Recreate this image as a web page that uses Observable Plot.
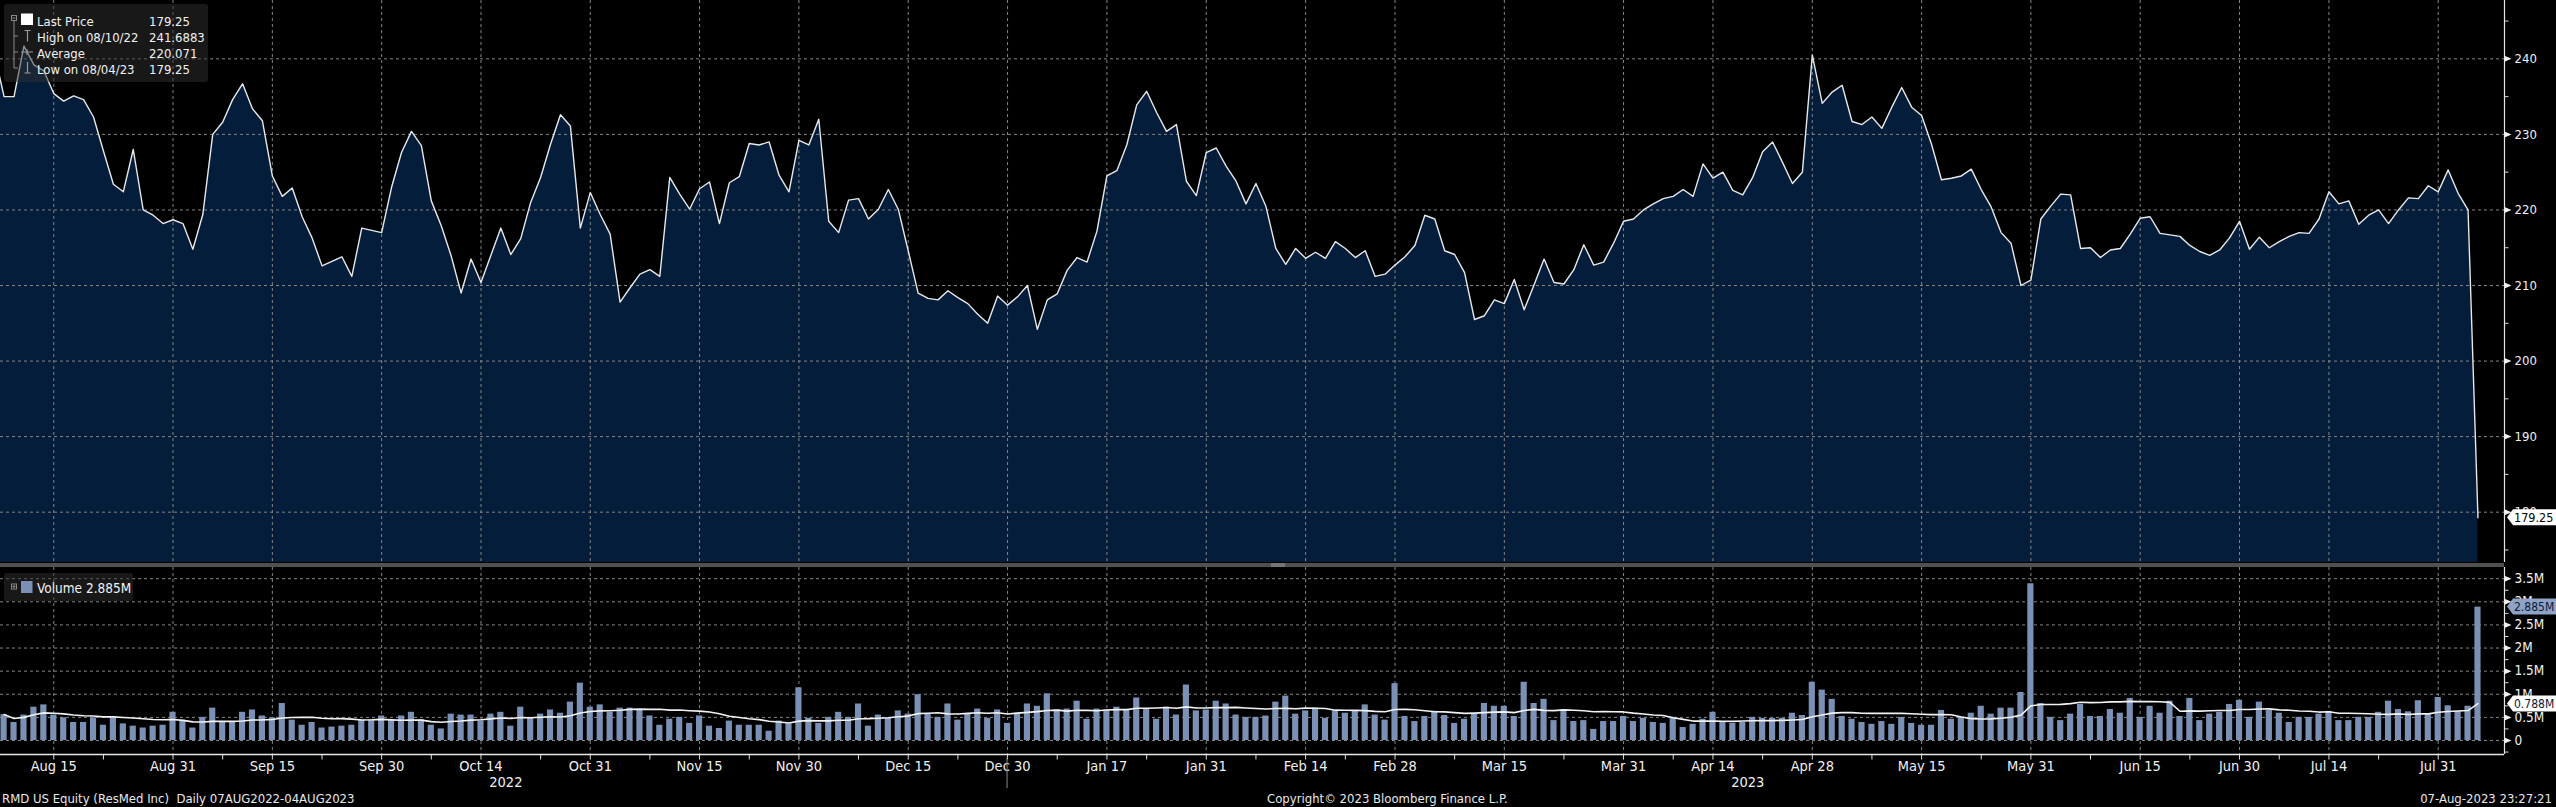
<!DOCTYPE html>
<html>
<head>
<meta charset="utf-8">
<script src="https://cdn.jsdelivr.net/npm/d3@7"></script>
<script src="https://cdn.jsdelivr.net/npm/@observablehq/plot@0.6"></script>
<style>
html, body { margin: 0; padding: 0; background: #000; }
#root { position: relative; width: 2556px; height: 807px; background: #000; overflow: hidden; }
#root > .panel { position: absolute; left: 0; }
#root svg { display: block; }
#overlay { position: absolute; left: 0; top: 0; pointer-events: none; }
</style>
</head>
<body>
<div id="root"></div>
<script>
// ---------------- DATA ----------------
const startDate = "2022-08-08";
const endDate = "2023-08-04";
const holidays = ["2022-09-05","2022-11-24","2022-12-26","2023-01-02","2023-01-16",
  "2023-02-20","2023-04-07","2023-05-29","2023-06-19","2023-07-04"];

// close price of the day before the window (line enters from the left edge)
const priorClose = 240.8;

const prices = [
  235.0,235.0,241.7,239.2,238.4,235.4,234.4,235.1,234.6,232.3,
  227.8,223.4,222.4,228.0,220.0,219.3,218.2,218.7,218.2,214.8,
  219.4,230.0,231.6,234.6,236.7,233.4,231.8,224.5,221.8,222.9,
  219.1,216.3,212.6,213.2,213.8,211.2,217.6,217.3,217.0,223.0,
  227.6,230.4,228.5,221.2,217.9,213.9,209.0,213.5,210.4,214.0,
  217.6,214.1,216.2,221.0,224.3,228.7,232.6,231.1,217.6,222.3,
  219.4,216.8,207.8,209.7,211.5,212.1,211.2,224.3,222.1,220.1,
  222.8,223.7,218.2,223.6,224.4,228.8,228.6,229.0,224.6,222.4,
  229.2,228.6,232.0,218.5,217.0,221.3,221.5,218.8,220.1,222.7,
  220.1,214.6,209.0,208.3,208.1,209.3,208.4,207.6,206.2,205.0,
  208.6,207.4,208.5,210.0,204.2,208.1,208.9,212.0,213.7,213.1,
  217.2,224.5,225.2,228.6,233.9,235.7,232.9,230.4,231.3,223.8,
  221.9,227.6,228.2,225.8,223.8,220.8,223.5,220.5,214.9,212.8,
  214.9,213.6,214.4,213.6,215.8,214.9,213.7,214.6,211.2,211.5,
  212.7,213.8,215.3,219.3,218.8,214.6,214.1,211.7,205.5,206.0,
  208.1,207.6,210.8,206.8,210.1,213.5,210.4,210.2,212.1,215.4,
  212.7,213.1,215.6,218.5,218.8,220.0,220.8,221.5,221.8,222.7,
  221.8,226.1,224.2,225.0,222.6,222.0,224.3,227.7,229.0,226.3,
  223.5,225.0,240.5,234.1,235.6,236.5,231.7,231.3,232.3,230.8,
  233.6,236.2,233.6,232.5,228.7,224.0,224.2,224.5,225.4,222.7,
  220.4,217.0,215.6,210.0,210.7,218.8,220.5,222.1,222.0,214.9,
  215.0,213.7,214.7,214.9,216.8,218.9,219.1,216.9,216.7,216.5,
  215.3,214.5,214.0,214.7,216.3,218.5,214.8,216.4,215.0,215.8,
  216.5,217.0,216.9,218.8,222.4,220.8,221.2,218.1,219.3,220.0,
  218.2,220.0,221.6,221.5,223.2,222.4,225.3,222.2,220.0,179.25
];

// daily volume, millions of shares
const volumes = [
  0.56,0.39,0.55,0.72,0.77,0.55,0.49,0.39,0.39,0.49,
  0.33,0.49,0.36,0.31,0.27,0.31,0.33,0.61,0.44,0.27,
  0.50,0.70,0.39,0.39,0.61,0.66,0.53,0.49,0.80,0.44,
  0.33,0.39,0.27,0.29,0.31,0.33,0.44,0.44,0.53,0.44,
  0.53,0.61,0.45,0.33,0.25,0.57,0.55,0.55,0.42,0.57,
  0.61,0.31,0.72,0.49,0.57,0.66,0.59,0.83,1.24,0.72,
  0.77,0.61,0.70,0.70,0.66,0.53,0.33,0.46,0.50,0.37,
  0.53,0.31,0.26,0.42,0.33,0.33,0.33,0.20,0.42,0.36,
  1.14,0.48,0.37,0.50,0.61,0.50,0.79,0.31,0.55,0.48,
  0.64,0.57,0.99,0.57,0.50,0.79,0.44,0.57,0.68,0.48,
  0.66,0.37,0.59,0.79,0.74,1.01,0.66,0.68,0.85,0.46,
  0.68,0.66,0.72,0.66,0.92,0.68,0.46,0.72,0.55,1.20,
  0.64,0.66,0.85,0.79,0.55,0.50,0.50,0.53,0.83,0.96,
  0.57,0.64,0.70,0.48,0.64,0.59,0.64,0.77,0.55,0.44,
  1.23,0.52,0.41,0.52,0.63,0.54,0.37,0.46,0.57,0.80,
  0.74,0.74,0.52,1.26,0.80,0.89,0.43,0.67,0.41,0.43,
  0.24,0.41,0.41,0.52,0.41,0.48,0.39,0.37,0.50,0.28,
  0.35,0.46,0.61,0.39,0.37,0.39,0.50,0.48,0.48,0.48,
  0.59,0.54,1.26,1.09,0.89,0.52,0.46,0.39,0.35,0.41,
  0.35,0.50,0.37,0.33,0.33,0.65,0.46,0.50,0.59,0.74,
  0.57,0.70,0.70,1.04,3.39,0.80,0.50,0.43,0.57,0.78,
  0.52,0.52,0.67,0.59,0.91,0.50,0.74,0.59,0.85,0.52,
  0.91,0.43,0.57,0.61,0.78,0.87,0.50,0.83,0.65,0.59,
  0.39,0.50,0.50,0.57,0.63,0.43,0.43,0.50,0.50,0.61,
  0.85,0.67,0.62,0.86,0.57,0.93,0.75,0.63,0.74,2.885
];

const majorTickDates = ["2022-08-15","2022-08-31","2022-09-15","2022-09-30","2022-10-14","2022-10-31",
  "2022-11-15","2022-11-30","2022-12-15","2022-12-30","2023-01-17","2023-01-31","2023-02-14","2023-02-28",
  "2023-03-15","2023-03-31","2023-04-14","2023-04-28","2023-05-15","2023-05-31","2023-06-15","2023-06-30",
  "2023-07-14","2023-07-31"];
const majorTickLabels = ["Aug 15","Aug 31","Sep 15","Sep 30","Oct 14","Oct 31","Nov 15","Nov 30","Dec 15",
  "Dec 30","Jan 17","Jan 31","Feb 14","Feb 28","Mar 15","Mar 31","Apr 14","Apr 28","May 15","May 31",
  "Jun 15","Jun 30","Jul 14","Jul 31"];
const minorTickDates = ["2022-08-22","2022-09-08","2022-09-22","2022-10-07","2022-10-24","2022-11-08",
  "2022-11-22","2022-12-08","2022-12-22","2023-01-09","2023-01-23","2023-02-07","2023-02-21","2023-03-08",
  "2023-03-23","2023-04-10","2023-04-21","2023-05-08","2023-05-23","2023-06-08","2023-06-23","2023-07-07",
  "2023-07-21"];
const yearLabels = ["2022","2023"];
const yearBoundaryDate = "2022-12-30";

const priceTicks = [180,190,200,210,220,230,240];
const priceMinorTicks = [175,185,195,205,215,225,235,245];
const volumeTicks = [0,0.5,1,1.5,2,2.5,3,3.5];
const volumeTickLabels = ["0","0.5M","1M","1.5M","2M","2.5M","3M","3.5M"];
const volumeMinorTicks = [-0.25,0.25,0.75,1.25,1.75,2.25,2.75,3.25];

const legendRows = [
  ["Last Price","179.25"],
  ["High on 08/10/22","241.6883"],
  ["Average","220.071"],
  ["Low on 08/04/23","179.25"]
];
const lastPrice = 179.25;
const lastVolume = 2.885;
const lastVolumeAvg = 0.788;
const volumeLegend = "Volume 2.885M";
const footerLeft = "RMD US Equity (ResMed Inc)  Daily 07AUG2022-04AUG2023";
const footerCenter = "Copyright\u00A9 2023 Bloomberg Finance L.P.";
const footerRight = "07-Aug-2023 23:27:21";

// ---------------- BUILD ----------------
const days = [];
{
  let d = new Date(startDate + "T00:00:00Z");
  const end = new Date(endDate + "T00:00:00Z");
  while (d <= end) {
    const wd = d.getUTCDay();
    const s = d.toISOString().slice(0, 10);
    if (wd !== 0 && wd !== 6 && !holidays.includes(s)) days.push(s);
    d = new Date(d.getTime() + 864e5);
  }
}
const idx = s => days.indexOf(s);
const rows = days.map((date, i) => ({i, date, price: prices[i], vol: volumes[i]}));
const lineRows = [{i: -1, price: priorClose}, ...rows];
const majorIdx = majorTickDates.map(idx);
const minorIdx = minorTickDates.map(idx);
const yearRows = yearLabels.map(y => {
  const ii = days.map((d, i) => d.startsWith(y) ? i : null).filter(v => v !== null);
  return {label: y, i: (ii[0] + ii[ii.length - 1]) / 2};
});

const X_DOMAIN = [-0.362, 251.67];
const PRICE_Y = [173.34, 247.72];
const VOL_Y = [-0.303, 3.742];

const AREA = "#031d3b";
const GRID = "#858585";
const BAR = "#7a90b4";
const WHITE = "#f0f0f0";
const NARROW = "'Liberation Sans Narrow','DejaVu Sans Condensed',sans-serif";
const COND = "'DejaVu Sans Condensed','DejaVu Sans',sans-serif";

const tri = {draw(ctx) { ctx.moveTo(0, -3); ctx.lineTo(7, 0); ctx.lineTo(0, 3); ctx.closePath(); }};
const hTick = {draw(ctx) { ctx.moveTo(0, 0); ctx.lineTo(4, 0); }};
const vTick = {draw(ctx) { ctx.moveTo(0, 0); ctx.lineTo(0, 5); }};

const pricePlot = Plot.plot({
  width: 2556, height: 562,
  marginLeft: 0, marginRight: 52, marginTop: 0, marginBottom: 0,
  style: {background: "transparent", color: WHITE, overflow: "visible"},
  x: {domain: X_DOMAIN, axis: null},
  y: {domain: PRICE_Y, axis: null},
  marks: [
    Plot.areaY(lineRows, {x: "i", y1: PRICE_Y[0], y2: "price", fill: AREA, clip: true}),
    Plot.ruleY(priceTicks, {stroke: GRID, strokeDasharray: "3,3"}),
    Plot.ruleX(majorIdx, {stroke: GRID, strokeDasharray: "3,3"}),
    Plot.lineY(lineRows, {x: "i", y: "price", stroke: "#e8e8e8", strokeWidth: 1.4, clip: true}),
    Plot.ruleX([X_DOMAIN[1]], {stroke: "#e6e6e6", strokeWidth: 1.2}),
    Plot.dot(priceMinorTicks, {x: X_DOMAIN[1], y: d => d, symbol: hTick, fill: "none", stroke: "#d8d8d8", strokeWidth: 1}),
    Plot.dot(priceTicks, {x: X_DOMAIN[1], y: d => d, symbol: tri, fill: WHITE, stroke: "none"}),
    Plot.text(priceTicks, {x: X_DOMAIN[1], y: d => d, text: d => String(d), textAnchor: "start", dx: 10,
      fill: WHITE, fontSize: 13, fontFamily: COND})
  ]
});

const volPlot = Plot.plot({
  width: 2556, height: 245,
  marginLeft: 0, marginRight: 52, marginTop: 5, marginBottom: 53,
  style: {background: "transparent", color: WHITE, overflow: "visible"},
  x: {domain: X_DOMAIN, axis: null},
  y: {domain: VOL_Y, axis: null},
  marks: [
    Plot.ruleY(volumeTicks, {stroke: GRID, strokeDasharray: "3,3"}),
    Plot.ruleX(majorIdx, {stroke: GRID, strokeDasharray: "3,3"}),
    Plot.rect(rows, {x1: d => d.i - 0.31, x2: d => d.i + 0.31, y1: 0, y2: "vol", fill: BAR}),
    Plot.lineY(rows, Plot.windowY({k: 15, anchor: "end", strict: false},
      {x: "i", y: "vol", stroke: "#f2f2f2", strokeWidth: 1.6})),
    Plot.ruleY([VOL_Y[0]], {stroke: "#e8e8e8", strokeWidth: 1.6}),
    Plot.ruleX([X_DOMAIN[1]], {stroke: "#e6e6e6", strokeWidth: 1.2}),
    Plot.dot(volumeMinorTicks, {x: X_DOMAIN[1], y: d => d, symbol: hTick, fill: "none", stroke: "#d8d8d8", strokeWidth: 1}),
    Plot.dot(volumeTicks, {x: X_DOMAIN[1], y: d => d, symbol: tri, fill: WHITE, stroke: "none"}),
    Plot.text(volumeTicks, {x: X_DOMAIN[1], y: d => d, text: (d, k) => volumeTickLabels[k], textAnchor: "start",
      dx: 10, fill: WHITE, fontSize: 13.5, fontFamily: NARROW}),
    Plot.dot(majorIdx, {x: d => d, y: VOL_Y[0], symbol: vTick, fill: "none", stroke: "#e0e0e0", strokeWidth: 1}),
    Plot.dot(minorIdx, {x: d => d, y: VOL_Y[0], symbol: vTick, fill: "none", stroke: "#e0e0e0", strokeWidth: 1}),
    Plot.text(majorIdx, {x: d => d, y: VOL_Y[0], text: (d, k) => majorTickLabels[k], dy: 12,
      fill: WHITE, fontSize: 14.5, fontFamily: NARROW}),
    Plot.text(yearRows, {x: "i", y: VOL_Y[0], text: "label", dy: 28,
      fill: WHITE, fontSize: 14.5, fontFamily: NARROW})
  ]
});

const root = document.getElementById("root");
const p1 = document.createElement("div"); p1.className = "panel"; p1.style.top = "0px"; p1.appendChild(pricePlot);
const p2 = document.createElement("div"); p2.className = "panel"; p2.style.top = "562px"; p2.appendChild(volPlot);
root.appendChild(p1); root.appendChild(p2);

// ---------------- OVERLAY (legends, value tags, footer) ----------------
const py = pricePlot.scale("y").apply(lastPrice);
const vy1 = 562 + volPlot.scale("y").apply(lastVolume);
const vy2 = 562 + volPlot.scale("y").apply(lastVolumeAvg);
const yearX = volPlot.scale("x").apply(idx(yearBoundaryDate));

function tag(cy, fill, textFill, label, font, size) {
  const h = 16;
  return `<polygon points="2507,${cy} 2513,${cy - h/2} 2556,${cy - h/2} 2556,${cy + h/2} 2513,${cy + h/2}" fill="${fill}"/>
  <text x="2514" y="${cy + 4.4}" fill="${textFill}" font-family="${font}" font-size="${size}">${label}</text>`;
}

const rowBase = [25.5, 41.5, 57.5, 73.5];
const legendText = legendRows.map((r, k) =>
  `<text x="37" y="${rowBase[k]}" fill="#f2f2f2" font-family="${COND}" font-size="13">${r[0]}</text>
   <text x="149" y="${rowBase[k]}" fill="#f2f2f2" font-family="${COND}" font-size="13">${r[1]}</text>`).join("");

const svgNS = `<svg id="overlay" width="2556" height="807" xmlns="http://www.w3.org/2000/svg">
  <rect x="0" y="563" width="2504" height="4" fill="#505050"/>
  <rect x="1271" y="563.5" width="14" height="1" fill="#9a9a9a"/>
  <rect x="1271" y="565.5" width="14" height="1" fill="#9a9a9a"/>

  <rect x="4" y="4" width="204" height="78" rx="3" fill="rgba(48,48,48,0.5)"/>
  <rect x="11.5" y="15.5" width="5" height="5" fill="none" stroke="#8a8a8a" stroke-width="1"/>
  <line x1="12.5" y1="18" x2="15.5" y2="18" stroke="#8a8a8a"/>
  <line x1="14" y1="21" x2="14" y2="68" stroke="#8a8a8a"/>
  <line x1="14" y1="36" x2="18" y2="36" stroke="#8a8a8a"/>
  <line x1="14" y1="52" x2="18" y2="52" stroke="#8a8a8a"/>
  <line x1="14" y1="68" x2="18" y2="68" stroke="#8a8a8a"/>
  <rect x="21" y="13.5" width="12" height="11.5" fill="#ffffff"/>
  <path d="M24.5,30.5 H30.5 M27.5,30.5 V41.5" stroke="#9a9a9a" stroke-width="1.2" fill="none"/>
  <path d="M21,52 H33 M27,49 V55" stroke="#9a9a9a" stroke-width="1.2" fill="none"/>
  <path d="M27.5,62 V73 M24.5,73 H30.5" stroke="#9a9a9a" stroke-width="1.2" fill="none"/>
  ${legendText}

  <rect x="4" y="573" width="129" height="28" rx="3" fill="rgba(48,48,48,0.5)"/>
  <rect x="11.5" y="584" width="5" height="5" fill="none" stroke="#8a8a8a"/>
  <line x1="12.5" y1="586.5" x2="15.5" y2="586.5" stroke="#8a8a8a"/>
  <line x1="14" y1="585" x2="14" y2="588" stroke="#8a8a8a"/>
  <rect x="21" y="581" width="11.5" height="12" fill="${BAR}"/>
  <text x="37" y="593" fill="#f2f2f2" font-family="${NARROW}" font-size="13.5">${volumeLegend}</text>

  ${tag(py, "#ffffff", "#000000", lastPrice.toFixed(2), COND, 12.5)}
  ${tag(vy1, "#8ea3c6", "#0b1a36", lastVolume.toFixed(3) + "M", NARROW, 12)}
  ${tag(vy2, "#ffffff", "#0b1a36", lastVolumeAvg.toFixed(3) + "M", NARROW, 12)}

  <line x1="${yearX}" y1="757" x2="${yearX}" y2="788" stroke="#8a8a8a" stroke-width="1"/>

  <text x="2" y="802.5" fill="#e8e8e8" font-family="${NARROW}" font-size="13" xml:space="preserve">${footerLeft}</text>
  <text x="1267" y="802.5" fill="#e8e8e8" font-family="${NARROW}" font-size="13">${footerCenter}</text>
  <text x="2552" y="802.5" text-anchor="end" fill="#e8e8e8" font-family="${NARROW}" font-size="13">${footerRight}</text>
</svg>`;
root.insertAdjacentHTML("beforeend", svgNS);
</script>
</body>
</html>
